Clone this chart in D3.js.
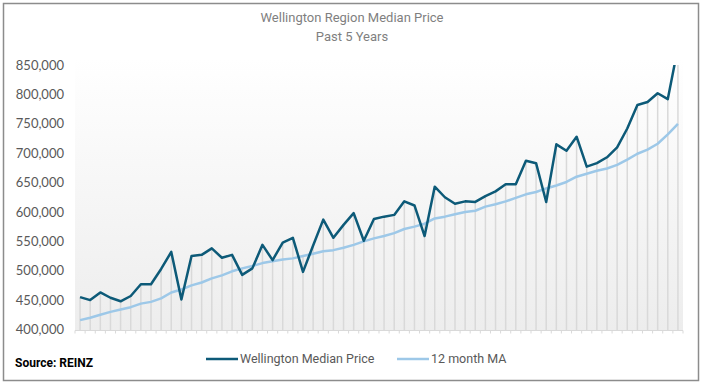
<!DOCTYPE html>
<html>
<head>
<meta charset="utf-8">
<script src="https://cdn.jsdelivr.net/npm/d3@7"></script>
<style>
  body { margin: 0; background: #fff; }
  svg { display: block; }
  .ttl { font-family: Roboto, sans-serif; fill: #7f7f7f; font-size: 13px; }
  .ytick text { font-family: Lato, sans-serif; fill: #595959; font-size: 13px; }
  .lg { font-family: Roboto, sans-serif; fill: #595959; font-size: 12.5px; }
</style>
</head>
<body>
<svg id="main"></svg>
<script>
// monthly median price, last 5 years
var median = [455000, 450000, 463000, 454000, 448000, 457000, 477000, 477000, 503000, 532000,
  451000, 525000, 527000, 538000, 522000, 527000, 493000, 504000, 544000, 518000,
  548000, 556000, 498000, 543000, 587000, 556000, 578000, 598000, 551000, 588000,
  592000, 595000, 618000, 611000, 559000, 643000, 625000, 614000, 618000, 617000,
  627000, 635000, 647000, 647000, 687000, 683000, 617000, 715000, 704000, 728000,
  677000, 683000, 693000, 710000, 742000, 782000, 787000, 802000, 792000, 880000];

var movAvg = [416000, 420000, 425000, 430000, 434000, 438000, 444000, 447000, 453000, 463000,
  468000, 475000, 480000, 487000, 492000, 499000, 504000, 508000, 513000, 516000,
  519000, 521000, 525000, 529000, 533000, 535000, 539000, 544000, 550000, 555000,
  559000, 564000, 571000, 575000, 580000, 589000, 592000, 596000, 600000, 602000,
  609000, 613000, 618000, 624000, 630000, 634000, 640000, 645000, 651000, 660000,
  665000, 670000, 674000, 680000, 689000, 699000, 706000, 716000, 732000, 750000];

var yTicks = [400000, 450000, 500000, 550000, 600000, 650000, 700000, 750000, 800000, 850000];
var seriesNames = ["Wellington Median Price", "12 month MA"];
var months = d3.range(median.length);

var W = 704, H = 385;
var pLeft = 75, pRight = 683, pTop = 65, pBottom = 329.5;

var s = d3.select("#main").attr("width", W).attr("height", H);

// outer frame
s.append("rect").attr("x", 3.5).attr("y", 3.5).attr("width", 695).attr("height", 377)
  .attr("fill", "#fff").attr("stroke", "#8c8c8c").attr("stroke-width", 1.5);

var x = d3.scaleBand().domain(months).range([pLeft, pRight]);
var y = d3.scaleLinear().domain([400000, 850000]).range([pBottom, pTop]);

var defs = s.append("defs");
var grad = defs.append("linearGradient").attr("id", "bg").attr("x1", 0).attr("y1", 0).attr("x2", 0).attr("y2", 1);
grad.append("stop").attr("offset", "0%").attr("stop-color", "#ffffff");
grad.append("stop").attr("offset", "100%").attr("stop-color", "#ededed");
defs.append("clipPath").attr("id", "clip").append("rect")
  .attr("x", pLeft).attr("y", pTop).attr("width", pRight - pLeft).attr("height", pBottom - pTop + 2);

s.append("rect").attr("x", pLeft).attr("y", 58).attr("width", pRight - pLeft).attr("height", pBottom - 58 + 1)
  .attr("fill", "url(#bg)");

var cx = function(i) { return x(i) + x.bandwidth() / 2; };

var plot = s.append("g").attr("clip-path", "url(#clip)");

// drop lines
plot.append("g").selectAll("line").data(months).enter().append("line")
  .attr("x1", cx).attr("x2", cx)
  .attr("y1", function(i) { return y(Math.max(median[i], movAvg[i])); })
  .attr("y2", pBottom + 1)
  .attr("stroke", "#d9d9d9").attr("stroke-width", 1.5);

var line = d3.line().x(function(d, i) { return cx(i); }).y(function(d) { return y(d); });

plot.append("path").datum(movAvg).attr("d", line)
  .attr("fill", "none").attr("stroke", "#9dc8e8").attr("stroke-width", 2.5).attr("stroke-linejoin", "round");
plot.append("path").datum(median).attr("d", line)
  .attr("fill", "none").attr("stroke", "#0d5a78").attr("stroke-width", 2.5).attr("stroke-linejoin", "round");

// x axis: baseline and tick marks at band edges
var xa = s.append("g").attr("transform", "translate(0," + (pBottom + 1) + ")");
xa.append("line").attr("x1", pLeft).attr("x2", pRight).attr("stroke", "#d9d9d9").attr("stroke-width", 1);
xa.selectAll("line.tk").data(months.concat([months.length])).enter().append("line").attr("class", "tk")
  .attr("x1", function(i) { return pLeft + i * x.step(); })
  .attr("x2", function(i) { return pLeft + i * x.step(); })
  .attr("y1", 0).attr("y2", 3).attr("stroke", "#d9d9d9");

// y axis labels
var ya = s.append("g").attr("class", "ytick").attr("transform", "translate(64,0)")
  .call(d3.axisLeft(y).tickValues(yTicks).tickSize(0).tickPadding(0).tickFormat(d3.format(",")));
ya.select(".domain").remove();

// title
s.append("text").attr("class", "ttl").attr("x", 352).attr("y", 22).attr("text-anchor", "middle")
  .text("Wellington Region Median Price");
s.append("text").attr("class", "ttl").attr("x", 352).attr("y", 41).attr("text-anchor", "middle")
  .text("Past 5 Years");

// legend
var lgX = [206, 397], lgC = ["#0d5a78", "#9dc8e8"];
seriesNames.forEach(function(n, k) {
  s.append("line").attr("x1", lgX[k]).attr("x2", lgX[k] + 32).attr("y1", 359).attr("y2", 359)
    .attr("stroke", lgC[k]).attr("stroke-width", 2.5);
  s.append("text").attr("class", "lg").attr("x", lgX[k] + 34).attr("y", 363).text(n);
});

s.append("text").attr("x", 15).attr("y", 367)
  .style("font-family", "Roboto, sans-serif").style("font-weight", "bold").style("font-size", "12px")
  .attr("fill", "#000").text("Source: REINZ");
</script>
</body>
</html>
